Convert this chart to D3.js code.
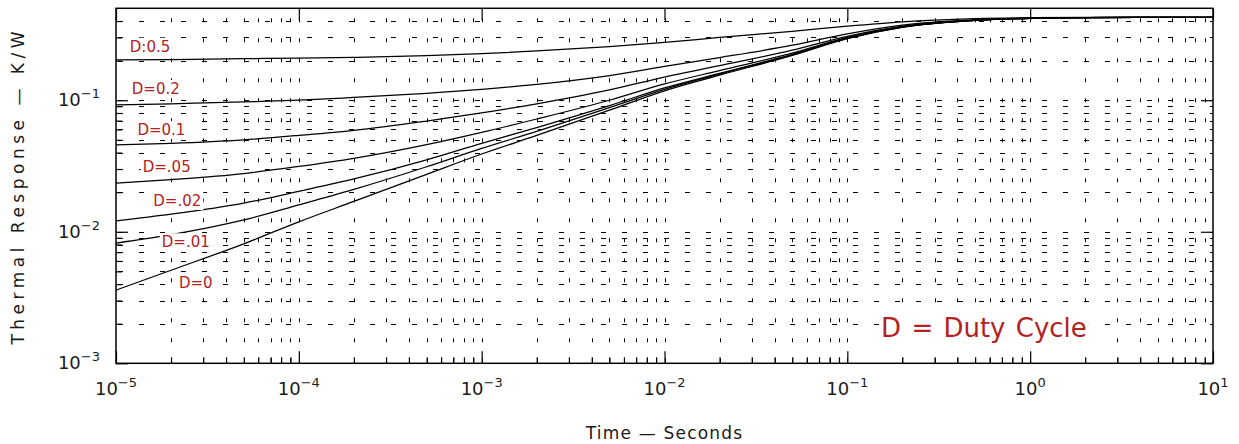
<!DOCTYPE html>
<html><head><meta charset="utf-8">
<script src="https://cdn.jsdelivr.net/npm/d3@7"></script>
<style>
body{margin:0;background:#fff}
svg{display:block}
text{font-family:"DejaVu Sans",sans-serif}
</style>
</head><body>
<svg id="chart" width="1239" height="444"></svg>
<script>
// ---- data ----
const times = [1e-5,2e-5,5e-5,1e-4,2e-4,5e-4,1e-3,2e-3,5e-3,1e-2,2e-2,5e-2,0.1,0.2,0.5,1,2,10];
const dutyLabels = ["D:0.5","D=0.2","D=0.1","D=.05","D=.02","D=.01","D=0"];
const zD050 = [0.2025,0.204,0.207,0.209,0.212,0.218,0.226,0.237,0.256,0.275,0.300,0.334,0.366,0.395,0.417,0.424,0.426,0.427];
const zD020 = [0.092,0.094,0.097,0.100,0.105,0.113,0.121,0.132,0.154,0.181,0.211,0.262,0.320,0.373,0.409,0.421,0.425,0.427];
const zD010 = [0.0457,0.0470,0.0500,0.0540,0.0590,0.0695,0.080,0.094,0.120,0.150,0.183,0.240,0.306,0.366,0.407,0.420,0.425,0.427];
const zD005 = [0.0234,0.0249,0.0277,0.0314,0.0362,0.046,0.057,0.072,0.100,0.133,0.168,0.228,0.300,0.363,0.406,0.420,0.425,0.427];
const zD002 = [0.0121,0.0136,0.0165,0.0203,0.0252,0.0352,0.047,0.062,0.091,0.124,0.160,0.223,0.297,0.361,0.405,0.420,0.425,0.427];
const zD001 = [0.0082,0.0095,0.0123,0.0160,0.0210,0.0312,0.043,0.058,0.088,0.121,0.158,0.221,0.296,0.360,0.405,0.420,0.425,0.427];
const zD000 = [0.0036,0.0051,0.0081,0.0119,0.0170,0.0273,0.039,0.054,0.084,0.118,0.155,0.219,0.294,0.358,0.404,0.419,0.425,0.427];
const seriesValues = [zD050,zD020,zD010,zD005,zD002,zD001,zD000];
// label anchors in data units (time, response)
const labelTimes = [1.19e-5,1.22e-5,1.31e-5,1.40e-5,1.60e-5,1.78e-5,2.21e-5];
const labelValues = [0.234,0.1115,0.0544,0.0286,0.0157,0.00762,0.00376];
const noteText = "D = Duty Cycle";
const noteAt = [0.153, 0.00159];
const xMajorTicks = [1e-5,1e-4,1e-3,1e-2,1e-1,1,10];
const xTickExponents = ["\u22125","\u22124","\u22123","\u22122","\u22121","0","1"];
const yMajorTicks = [1e-3,1e-2,1e-1];
const yTickExponents = ["\u22123","\u22122","\u22121"];
const xTitle = "Time \u2014 Seconds";
const yTitle = "Thermal Response \u2014 K/W";

// ---- layout ----
const L = 116, R = 1213, T = 8.3, B = 363.3;
const svg = d3.select("#chart");
const x = d3.scaleLog().domain([1e-5, 10]).range([L, R]);
const y = d3.scaleLog().domain([1e-3, 0.5]).range([B, T]);

const xMinor = [];
for (let k = -5; k <= 0; k++) for (let m = 2; m <= 9; m++) xMinor.push(m * Math.pow(10, k));
const yMinor = [];
for (let k = -3; k <= -1; k++) for (let m = 2; m <= 9; m++) { const v = m * Math.pow(10, k); if (v < 0.5) yMinor.push(v); }

// grid
const grid = svg.append("g").attr("stroke", "#000").attr("stroke-width", 1);
grid.selectAll("line.v").data(xMinor.concat(xMajorTicks.slice(1, -1))).join("line")
  .attr("x1", d => Math.round(x(d)) + 0.5).attr("x2", d => Math.round(x(d)) + 0.5)
  .attr("y1", T).attr("y2", B)
  .attr("stroke-dasharray", "4,16").attr("stroke-dashoffset", 10);
grid.selectAll("line.h").data(yMinor.concat(yMajorTicks.slice(1))).join("line")
  .attr("y1", d => Math.round(y(d)) + 0.5).attr("y2", d => Math.round(y(d)) + 0.5)
  .attr("x1", L).attr("x2", R)
  .attr("stroke-dasharray", "5,16").attr("stroke-dashoffset", 19);

// axes ticks (inward)
function styleAxis(g) { g.select(".domain").remove(); g.selectAll("line").attr("stroke", "#000").attr("stroke-width", 1.2); }
svg.append("g").attr("transform", `translate(0,${B})`)
  .call(d3.axisBottom(x).tickValues(xMinor).tickSize(-6).tickFormat("")).call(styleAxis);
svg.append("g").attr("transform", `translate(0,${B})`)
  .call(d3.axisBottom(x).tickValues(xMajorTicks).tickSize(-12).tickFormat("")).call(styleAxis);
svg.append("g").attr("transform", `translate(0,${T})`)
  .call(d3.axisTop(x).tickValues(xMajorTicks).tickSize(-12).tickFormat("")).call(styleAxis);
svg.append("g").attr("transform", `translate(${L},0)`)
  .call(d3.axisLeft(y).tickValues(yMinor).tickSize(-6).tickFormat("")).call(styleAxis);
svg.append("g").attr("transform", `translate(${L},0)`)
  .call(d3.axisLeft(y).tickValues(yMajorTicks).tickSize(-12).tickFormat("")).call(styleAxis);
svg.append("g").attr("transform", `translate(${R},0)`)
  .call(d3.axisRight(y).tickValues(yMajorTicks).tickSize(-12).tickFormat("")).call(styleAxis);

// curves
const line = d3.line().x(d => x(d[0])).y(d => y(d[1])).curve(d3.curveMonotoneX);
seriesValues.forEach(vals => {
  svg.append("path").datum(times.map((t, i) => [t, vals[i]]))
    .attr("d", line).attr("fill", "none").attr("stroke", "#000").attr("stroke-width", 1.25);
});

// frame
svg.append("rect").attr("x", L).attr("y", T).attr("width", R - L).attr("height", B - T)
  .attr("fill", "none").attr("stroke", "#000").attr("stroke-width", 1.5);

// text with white backing
const red = "#b22222";
function backedText(px, py, str, size, extra) {
  const g = svg.append("g");
  const tx = g.append("text").attr("x", px).attr("y", py).attr("fill", red).attr("font-size", size).text(str);
  if (extra) tx.attr("word-spacing", extra);
  const bb = tx.node().getBBox();
  g.insert("rect", "text").attr("x", bb.x - 2).attr("y", bb.y).attr("width", bb.width + 4).attr("height", bb.height)
    .attr("fill", "#fff");
}
dutyLabels.forEach((lab, i) => backedText(x(labelTimes[i]), y(labelValues[i]), lab, 15, 0));
backedText(x(noteAt[0]), y(noteAt[1]), noteText, 26, 2);

// tick labels
const tickColor = "#1a1a1a";
xMajorTicks.forEach((v, i) => {
  const t = svg.append("text").attr("x", x(v)).attr("y", B + 32).attr("text-anchor", "middle")
    .attr("fill", tickColor).attr("font-size", 18);
  t.append("tspan").text("10");
  t.append("tspan").attr("font-size", 13).attr("dy", -8).text(xTickExponents[i]);
});
yMajorTicks.forEach((v, i) => {
  const t = svg.append("text").attr("x", L - 16).attr("y", y(v) + 6).attr("text-anchor", "end")
    .attr("fill", tickColor).attr("font-size", 18);
  t.append("tspan").text("10");
  t.append("tspan").attr("font-size", 13).attr("dy", -8).text(yTickExponents[i]);
});

// axis titles
svg.append("text").attr("x", (L + R) / 2).attr("y", 439).attr("text-anchor", "middle")
  .attr("fill", tickColor).attr("font-size", 17).attr("letter-spacing", 1.2).text(xTitle);
svg.append("text").attr("transform", `translate(24,${(T + B) / 2}) rotate(-90)`).attr("text-anchor", "middle")
  .attr("fill", tickColor).attr("font-size", 17).attr("letter-spacing", 4.5).text(yTitle);
</script>
</body></html>
